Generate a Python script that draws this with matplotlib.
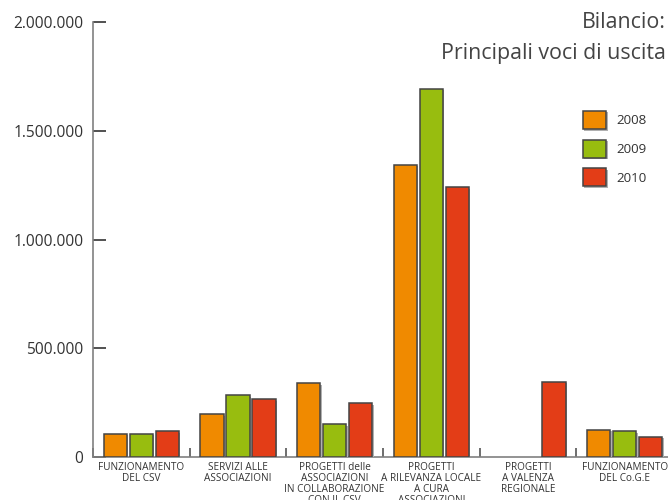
import matplotlib
matplotlib.use("Agg")
import matplotlib.pyplot as plt
import matplotlib.patheffects as pe
import numpy as np

plt.rcParams['font.family'] = ['Open Sans', 'DejaVu Sans']

# data
categories = [
    "FUNZIONAMENTO\nDEL CSV",
    "SERVIZI ALLE\nASSOCIAZIONI",
    "PROGETTI delle\nASSOCIAZIONI\nIN COLLABORAZIONE\nCON IL CSV",
    "PROGETTI\nA RILEVANZA LOCALE\nA CURA\nASSOCIAZIONI",
    "PROGETTI\nA VALENZA\nREGIONALE",
    "FUNZIONAMENTO\nDEL Co.G.E",
]
years = ["2008", "2009", "2010"]
values_2008 = [108000, 197000, 338000, 1344000, 0, 124000]
values_2009 = [107000, 284000, 150000, 1694000, 0, 119000]
values_2010 = [118000, 265000, 246000, 1240000, 347000, 93000]
yticks = [0, 500000, 1000000, 1500000, 2000000]
ytick_labels = ["0", "500.000", "1.000.000", "1.500.000", "2.000.000"]

colors = ["#F08A00", "#98BD0F", "#E33D17"]
series = [values_2008, values_2009, values_2010]

fig = plt.figure(figsize=(6.68, 5.0), dpi=100)
ax = fig.add_axes([93 / 668, 43 / 500, 580 / 668, 435 / 500])

x = np.arange(len(categories))
bar_w = 0.242
step = 0.269
shadow = [pe.SimplePatchShadow(offset=(1, -1), shadow_rgbFace="#b0b0b0", alpha=1.0), pe.Normal()]
for i, (vals, col, yr) in enumerate(zip(series, colors, years)):
    v = np.array(vals, dtype=float)
    mask = v > 0
    bars = ax.bar(x[mask] + (i - 1) * step, v[mask], width=bar_w, color=col,
                  edgecolor="#444444", linewidth=1.1, label=yr, zorder=3)
    for b in bars:
        b.set_path_effects(shadow)

ax.set_xlim(-0.5, 5.5)
ax.set_ylim(0, 2000000)

for s in ["top", "right"]:
    ax.spines[s].set_visible(False)
ax.spines["left"].set_color("#808080")
ax.spines["bottom"].set_color("#808080")
ax.spines["left"].set_linewidth(1.2)
ax.spines["bottom"].set_linewidth(1.2)

ax.set_yticks(yticks)
ax.set_yticklabels(ytick_labels)
ax.tick_params(axis="y", direction="in", length=9.5, width=1.2, color="#333333",
               pad=7, labelsize=11.2, labelcolor="#333333")

ax.set_xticks(np.arange(-0.5, 5.0, 1.0))
ax.set_xticklabels([])
ax.tick_params(axis="x", direction="in", length=6.7, width=1.2, color="#555555")

# category labels (the last lines run off the bottom, as in the original)
for xi, lab in zip(x, categories):
    ax.annotate(lab, xy=(xi, 0), xycoords=("data", "axes fraction"),
                xytext=(0, -3.5), textcoords="offset points", ha="center", va="top",
                fontsize=7.2, color="#333333", linespacing=1.0, annotation_clip=False)

fig.text(666 / 668, 1 - 23 / 500, "Bilancio:", ha="right", va="center",
         fontsize=15.4, color="#444444")
fig.text(666 / 668, 1 - 53 / 500, "Principali voci di uscita", ha="right", va="center",
         fontsize=15.4, color="#444444")

leg = ax.legend(loc="upper left", bbox_to_anchor=(583 / 668, 1 - 111 / 500),
                bbox_transform=fig.transFigure, frameon=False, fontsize=9.6,
                handlelength=1.75, handleheight=1.72, labelspacing=0.78,
                handletextpad=0.75, borderpad=0, borderaxespad=0)
for t in leg.get_texts():
    t.set_color("#333333")

fig.savefig("out.png", dpi=100)
